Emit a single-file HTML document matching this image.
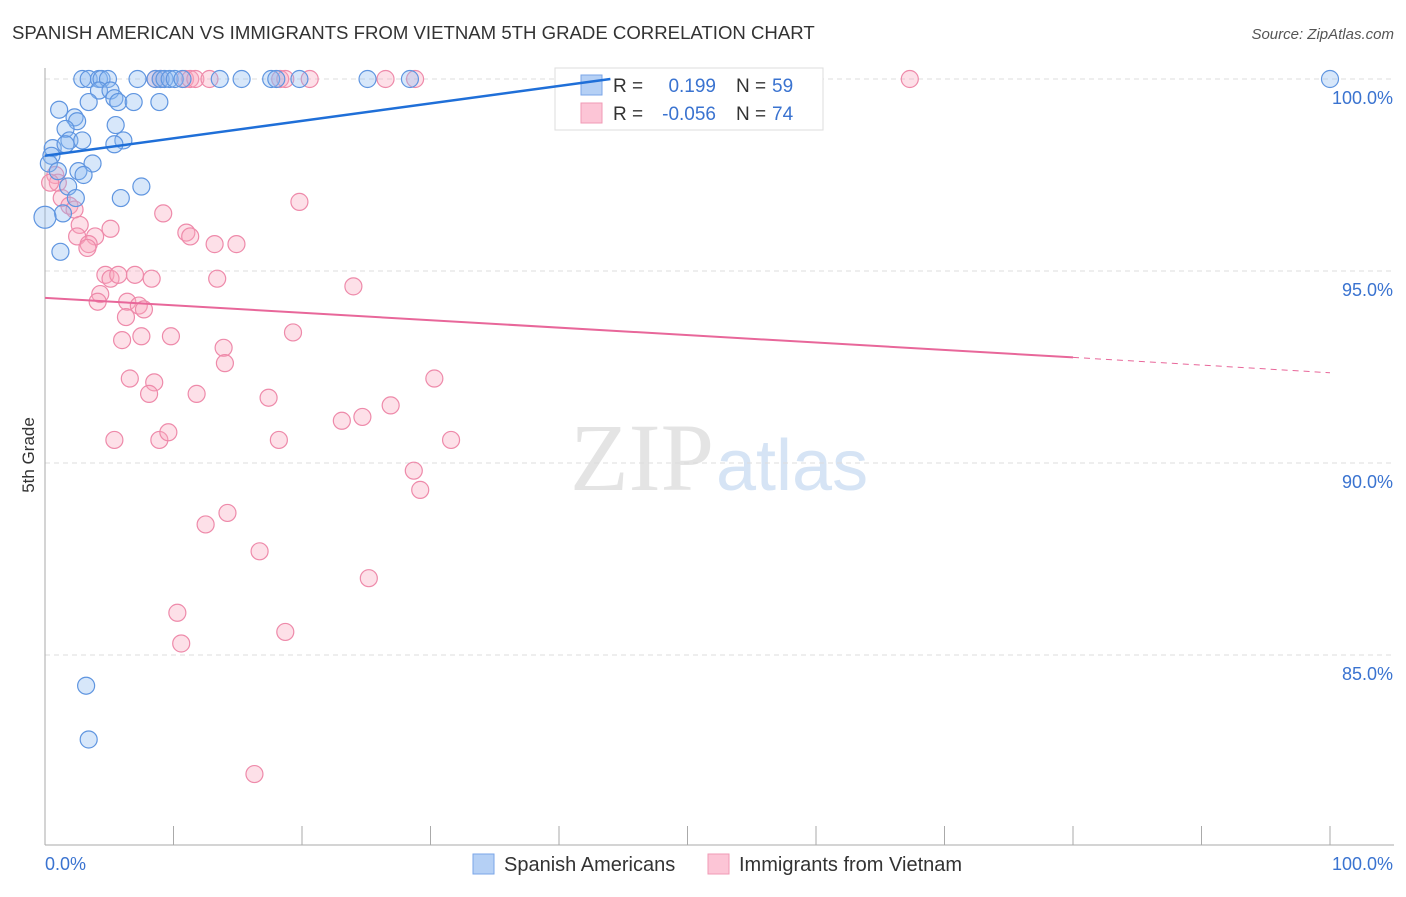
<!DOCTYPE html>
<html><head><meta charset="utf-8"><style>
body{margin:0;background:#fff;font-family:"Liberation Sans",sans-serif}
</style></head><body>
<svg width="1406" height="892" xmlns="http://www.w3.org/2000/svg">
<text x="12" y="39" font-size="18.6" fill="#333">SPANISH AMERICAN VS IMMIGRANTS FROM VIETNAM 5TH GRADE CORRELATION CHART</text>
<text x="1394" y="39" font-size="15" fill="#555" font-style="italic" text-anchor="end">Source: ZipAtlas.com</text>
<text x="714" y="490" font-size="96" fill="#e4e4e4" text-anchor="end" font-family="Liberation Serif">ZIP</text>
<text x="716" y="490" font-size="72" fill="#d6e4f5">atlas</text>
<g id="grid"></g><g id="axes"></g><g id="pts"></g>
<text transform="translate(34,455) rotate(-90)" font-size="17" fill="#333" text-anchor="middle">5th Grade</text>
<g>
<rect x="555" y="68" width="268" height="62" fill="#fff" stroke="#ddd"/>
<rect x="581" y="75" width="21" height="20" fill="#b5d0f5" stroke="#7aa6e8"/>
<rect x="581" y="103" width="21" height="20" fill="#fcc5d6" stroke="#f09ab5"/>
<text x="613" y="92" font-size="19" fill="#333">R =</text><text x="716" y="92" font-size="19" fill="#3a73d0" text-anchor="end">0.199</text>
<text x="736" y="92" font-size="19" fill="#333">N =</text><text x="772" y="92" font-size="19" fill="#3a73d0">59</text>
<text x="613" y="120" font-size="19" fill="#333">R =</text><text x="716" y="120" font-size="19" fill="#3a73d0" text-anchor="end">-0.056</text>
<text x="736" y="120" font-size="19" fill="#333">N =</text><text x="772" y="120" font-size="19" fill="#3a73d0">74</text>
</g>
<g id="trends"></g>
<g>
<rect x="473" y="854" width="21" height="20" fill="#b5d0f5" stroke="#7aa6e8"/>
<text x="504" y="871" font-size="20" fill="#333">Spanish Americans</text>
<rect x="708" y="854" width="21" height="20" fill="#fcc5d6" stroke="#f09ab5"/>
<text x="739" y="871" font-size="20" fill="#333">Immigrants from Vietnam</text>
</g>
</svg>
<script>
const yTicks=[100,95,90,85];
const yTickLabels=["100.0%","95.0%","90.0%","85.0%"];
const xTickLabels=["0.0%","100.0%"];
const blueX=[2.9,3.4,4.2,4.4,4.9,7.2,8.6,9.0,9.3,9.7,10.1,10.7,13.6,15.3,17.6,18.0,19.8,25.1,28.4,100,4.2,5.1,5.4,5.7,6.9,8.9,3.4,1.1,2.3,2.5,1.6,5.5,1.9,2.9,6.1,5.4,0.6,1.6,0.5,3.7,0.3,1.0,2.6,3.0,1.8,7.5,5.9,2.4,1.4,0.0,1.2,3.2,3.4];
const blueY=[100,100,100,100,100,100,100,100,100,100,100,100,100,100,100,100,100,100,100,100,99.7,99.7,99.5,99.4,99.4,99.4,99.4,99.2,99.0,98.9,98.7,98.8,98.4,98.4,98.4,98.3,98.2,98.3,98.0,97.8,97.8,97.6,97.6,97.5,97.2,97.2,96.9,96.9,96.5,96.4,95.5,84.2,82.8];
const pinkX=[8.6,9.0,10.9,11.3,11.7,12.8,18.3,18.7,20.6,26.5,28.8,67.3,0.8,1.0,0.4,1.3,1.9,2.3,19.8,9.2,2.7,3.9,5.1,2.5,3.4,3.3,11.0,11.3,13.2,14.9,4.7,5.1,5.7,7.0,8.3,13.4,24.0,4.3,4.1,6.4,7.3,7.7,6.3,9.8,7.5,6.0,19.3,13.9,14.0,6.6,8.5,30.3,8.1,11.8,17.4,26.9,24.7,23.1,5.4,8.9,9.6,18.2,31.6,28.7,29.2,14.2,12.5,16.7,25.2,10.3,10.6,18.7,16.3];
const pinkY=[100,100,100,100,100,100,100,100,100,100,100,100,97.5,97.3,97.3,96.9,96.7,96.6,96.8,96.5,96.2,95.9,96.1,95.9,95.7,95.6,96.0,95.9,95.7,95.7,94.9,94.8,94.9,94.9,94.8,94.8,94.6,94.4,94.2,94.2,94.1,94.0,93.8,93.3,93.3,93.2,93.4,93.0,92.6,92.2,92.1,92.2,91.8,91.8,91.7,91.5,91.2,91.1,90.6,90.6,90.8,90.6,90.6,89.8,89.3,88.7,88.4,87.7,87.0,86.1,85.3,85.6,81.9];
const blueTrend=[0,98.0,44,100];
const pinkTrend=[0,94.3,80,92.75,100,92.35];
const NS="http://www.w3.org/2000/svg";
const sx=v=>45+v*12.85, sy=v=>79+(100-v)*38.4;
function mk(p,t,a){const e=document.createElementNS(NS,t);for(const k in a)e.setAttribute(k,a[k]);document.getElementById(p).appendChild(e);return e;}
yTicks.forEach((t,i)=>{
 const l=mk('grid','line',{x1:45,x2:1394,y1:sy(t),y2:sy(t),stroke:'#ddd','stroke-dasharray':'5,4'});
 
 
 const tx=mk('grid','text',{x:1393,y:sy(t)+25,'font-size':18,fill:'#3a73d0','text-anchor':'end'});tx.textContent=yTickLabels[i];
 
 
});
mk('axes','line',{x1:45,x2:45,y1:68,y2:845,stroke:'#aaa'});
mk('axes','line',{x1:45,x2:1394,y1:845,y2:845,stroke:'#aaa'});
for(let i=0;i<=10;i++){const t=mk('axes','line',{x1:sx(i*10),x2:sx(i*10),y1:826,y2:845,stroke:'#aaa'});
 
 }
const xl0=mk('axes','text',{x:45,y:870,'font-size':18,fill:'#3a73d0'});xl0.textContent=xTickLabels[0];


const xl1=mk('axes','text',{x:1393,y:870,'font-size':18,fill:'#3a73d0','text-anchor':'end'});xl1.textContent=xTickLabels[1];


pinkX.forEach((x,i)=>{const c=mk('pts','circle',{cx:sx(x),cy:sy(pinkY[i]),r:8.5,fill:'rgba(248,165,190,0.35)',stroke:'#ee8aaa','stroke-width':1.2});
 
 });
blueX.forEach((x,i)=>{const c=mk('pts','circle',{cx:sx(x),cy:sy(blueY[i]),r:x===0?11:8.5,fill:'rgba(140,185,240,0.35)',stroke:'#5f95e0','stroke-width':1.2});
 
 });
const bt=mk('trends','line',{x1:sx(blueTrend[0]),y1:sy(blueTrend[1]),x2:sx(blueTrend[2]),y2:sy(blueTrend[3]),stroke:'#1f6fd8','stroke-width':2.5});


const pt=mk('trends','line',{x1:sx(pinkTrend[0]),y1:sy(pinkTrend[1]),x2:sx(pinkTrend[2]),y2:sy(pinkTrend[3]),stroke:'#e8679a','stroke-width':2});


const pd=mk('trends','line',{x1:sx(pinkTrend[2]),y1:sy(pinkTrend[3]),x2:sx(pinkTrend[4]),y2:sy(pinkTrend[5]),stroke:'#e8679a','stroke-width':1,'stroke-dasharray':'6,5'});


</script>
</body></html>
